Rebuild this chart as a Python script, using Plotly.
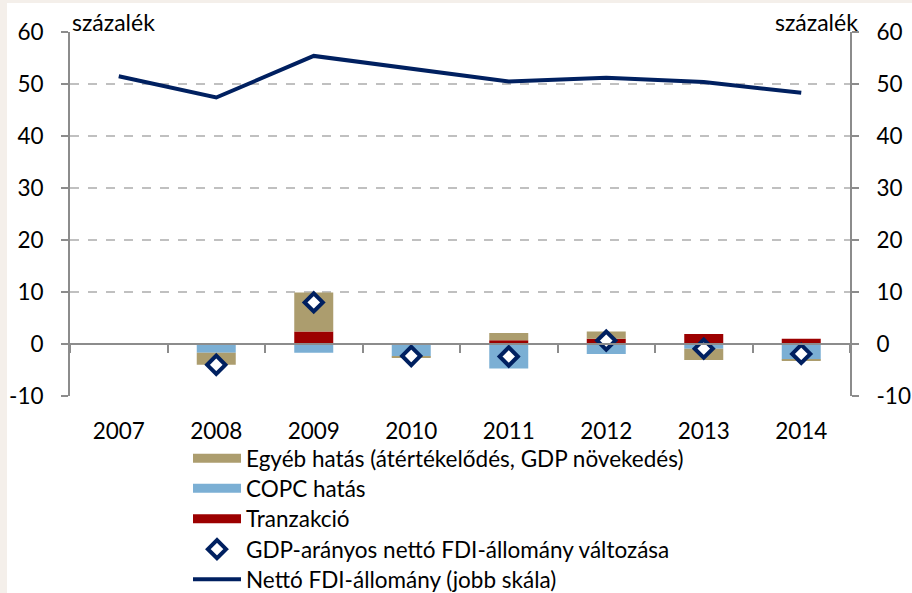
import plotly.graph_objects as go

years = ['2007', '2008', '2009', '2010', '2011', '2012', '2013', '2014']
egyeb = [None, -2.3, 7.5, -0.2, 1.4, 1.4, -2.2, -0.25]
copc = [None, -1.7, -1.7, -2.4, -4.7, -1.9, -0.9, -3.0]
tranzakcio = [None, 0.0, 2.4, 0.0, 0.7, 1.0, 1.9, 1.0]
valtozas = [None, -4.0, 8.0, -2.3, -2.4, 0.65, -0.9, -1.9]
allomany = [51.5, 47.4, 55.4, 52.9, 50.5, 51.2, 50.4, 48.3]
y_tickvals = [-10, 0, 10, 20, 30, 40, 50, 60]
y_ticktext = ['-10', '0', '10', '20', '30', '40', '50', '60']

names = ['Egyéb hatás (átértékelődés, GDP növekedés)', 'COPC hatás', 'Tranzakció',
         'GDP-arányos nettó FDI-állomány változása', 'Nettó FDI-állomány (jobb skála)']

C_TAN = '#ac9d6e'
C_BLUE = '#7bafd4'
C_RED = '#9c0000'
C_NAVY = '#002060'
C_AX = '#8c8c8c'
FONT = 'Lato'
FS = 22.5

W, H = 912, 593
ML, MR, MT, MB = 70, 62, 32, 197
PW, PH = W - ML - MR, H - MT - MB

fig = go.Figure()
fig.add_trace(go.Bar(x=years, y=tranzakcio, marker=dict(color=C_RED, line=dict(width=0)),
                     width=0.4, showlegend=False, hoverinfo='skip'))
fig.add_trace(go.Bar(x=years, y=copc, marker=dict(color=C_BLUE, line=dict(width=0)),
                     width=0.4, showlegend=False, hoverinfo='skip'))
fig.add_trace(go.Bar(x=years, y=egyeb, marker=dict(color=C_TAN, line=dict(width=0)),
                     width=0.4, showlegend=False, hoverinfo='skip'))

# legend entries for bars (wide rectangles), each in its own legend row
legend_ids = ['legend', 'legend2', 'legend3', 'legend4', 'legend5']
for nm, col, lg in [(names[0], C_TAN, legend_ids[0]), (names[1], C_BLUE, legend_ids[1]),
                    (names[2], C_RED, legend_ids[2])]:
    fig.add_trace(go.Scatter(x=[None], y=[None], mode='lines', name=nm, legend=lg,
                             line=dict(color=col, width=9)))

fig.add_trace(go.Scatter(x=years, y=valtozas, mode='markers', name=names[3], legend=legend_ids[3],
                         marker=dict(symbol='diamond', size=14, color='white',
                                     line=dict(color=C_NAVY, width=4))))
fig.add_trace(go.Scatter(x=years, y=allomany, mode='lines', name=names[4], legend=legend_ids[4],
                         yaxis='y2', line=dict(color=C_NAVY, width=4)))
# helper trace for the zero-crossing category axis
fig.add_trace(go.Scatter(x=years, y=[0] * len(years), xaxis='x2', mode='none',
                         showlegend=False, hoverinfo='skip'))

row_centers = [457, 487, 517.5, 548, 578]
legends = {}
for lg, yc in zip(legend_ids, row_centers):
    legends[lg] = dict(x=(188 - ML) / PW, y=(H - MB - (yc - 20)) / PH, xanchor='left',
                       yanchor='top', itemwidth=48, bgcolor='rgba(0,0,0,0)',
                       font=dict(size=FS))

yaxis_common = dict(range=[-10, 60], tickmode='array', tickvals=y_tickvals, ticktext=y_ticktext,
                    showline=True, linecolor=C_AX, linewidth=2, ticks='outside', ticklen=7,
                    tickwidth=2, tickcolor=C_AX, ticklabelstandoff=13, automargin=False,
                    zeroline=False, tickfont=dict(size=FS))

fig.update_layout(
    width=W, height=H,
    margin=dict(l=ML, r=MR, t=MT, b=MB, autoexpand=False),
    paper_bgcolor='#f4efea',
    plot_bgcolor='rgba(0,0,0,0)',
    barmode='relative',
    font=dict(family=FONT, size=FS, color='#000000'),
    showlegend=True,
    **legends,
    xaxis=dict(type='category', showline=False, showgrid=False, ticks='outside', ticklen=15,
               tickcolor='rgba(0,0,0,0)', tickfont=dict(size=FS), automargin=False),
    xaxis2=dict(type='category', overlaying='x', anchor='free', position=1 / 7,
                matches='x', showline=True, linecolor=C_AX, linewidth=2, ticks='outside',
                tickson='boundaries', ticklen=8, tickwidth=2, tickcolor=C_AX,
                showticklabels=False, showgrid=False, automargin=False),
    yaxis=dict(**yaxis_common, showgrid=True, gridcolor='#c0c0c0', griddash='dash',
               gridwidth=1.5),
    yaxis2=dict(**yaxis_common, overlaying='y', side='right', showgrid=False),
    shapes=[dict(type='rect', xref='paper', yref='paper', x0=(7 - ML) / PW, x1=1.2,
                 y0=-0.7, y1=(H - MB - 3) / PH, fillcolor='white', line=dict(width=0),
                 layer='below')],
    annotations=[
        dict(text='százalék', xref='paper', yref='paper', x=0, y=1, xanchor='left',
             yanchor='bottom', showarrow=False, xshift=0, yshift=-6, font=dict(size=23)),
        dict(text='százalék', xref='paper', yref='paper', x=1, y=1, xanchor='right',
             yanchor='bottom', showarrow=False, xshift=10, yshift=-6, font=dict(size=23)),
    ],
)

fig.write_html('out.html', config={'displayModeBar': False},
               post_script="document.body.style.margin='0';document.body.style.overflow='hidden';")
